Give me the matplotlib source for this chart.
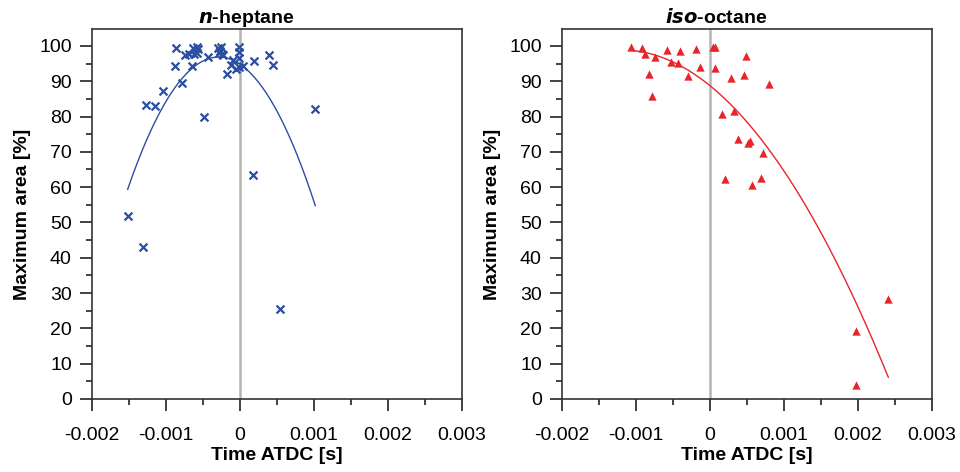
import matplotlib.pyplot as plt
from matplotlib.ticker import MultipleLocator
import numpy as np

plt.rcParams['font.family'] = ['Liberation Sans', 'DejaVu Sans']

# n-heptane: time ATDC [s], maximum area [%]
hep_t = [-0.000865, -0.000874, -0.000788, -0.001045, -0.001274, -0.001144, -0.000486,
         -0.000748, -0.000689, -0.000631, -0.000586, -0.000563, -0.000622, -0.000586,
         -0.000644, -0.000428, -0.000302, -0.000257, -0.000288, -0.000248, -0.000225,
         -0.000270, -0.000018, -0.000014, -0.000018, -0.000099, -0.000126, -0.000058,
         -0.000171, 0.000041, -0.000010, 0.000185, 0.000387, 0.000450, 0.001018,
         -0.001518, -0.001311, 0.000180, 0.000545]
hep_a = [99.3, 94.4, 89.5, 87.1, 83.3, 83.0, 80.0,
         97.5, 97.6, 99.3, 99.6, 99.2, 97.7, 98.1,
         94.3, 97.0, 99.3, 99.6, 98.1, 97.7, 97.3,
         98.7, 99.8, 98.4, 96.5, 96.0, 94.6, 93.4,
         92.0, 94.4, 94.1, 95.8, 97.5, 94.6, 82.2,
         51.7, 43.0, 63.5, 25.4]

# iso-octane
iso_t = [-0.001063, -0.000923, -0.000874, -0.000743, -0.000820, -0.000788, -0.000577,
         -0.000405, -0.000523, -0.000432, -0.000297, -0.000189, -0.000135, 0.000041,
         0.000072, 0.000068, 0.000490, 0.000460, 0.000280, 0.000793, 0.000166,
         0.000329, 0.000383, 0.000510, 0.000540, 0.000720, 0.000207, 0.000572,
         0.000689, 0.001977, 0.001977, 0.002410]
iso_a = [99.6, 99.5, 97.6, 97.0, 92.0, 85.8, 98.8,
         98.5, 95.4, 95.2, 91.5, 99.0, 93.9, 99.8,
         99.6, 93.8, 97.2, 91.8, 90.8, 89.1, 80.7,
         81.6, 73.7, 72.4, 73.1, 69.6, 62.4, 60.5,
         62.5, 19.2, 3.9, 28.2]

fig = plt.figure(figsize=(9.6, 4.72), dpi=100)
ax1 = fig.add_axes([0.0958, 0.1547, 0.3854, 0.7839])
ax2 = fig.add_axes([0.5854, 0.1547, 0.3854, 0.7839])

panels = [
    (ax1, hep_t, hep_a, 'x', '#2b4ea2', r'$\bfit{n}$-heptane'),
    (ax2, iso_t, iso_a, '^', '#e8252b', r'$\bfit{iso}$-octane'),
]

for ax, t, a, m, c, title in panels:
    ax.axvline(0, color='#b4b4b4', lw=1.8, zorder=1)
    ax.scatter(t, a, marker=m, color=c, s=32 if m == 'x' else 36,
               linewidths=1.6 if m == 'x' else 0, zorder=3)
    # 2nd order polynomial trendline
    coef = np.polyfit(t, a, 2)
    tt = np.linspace(min(t), max(t), 200)
    ax.plot(tt, np.polyval(coef, tt), color=c, lw=1.0, zorder=2)

    ax.set_xlim(-0.002, 0.003)
    ax.set_ylim(0, 104.8)
    ax.xaxis.set_major_locator(MultipleLocator(0.001))
    ax.xaxis.set_minor_locator(MultipleLocator(0.0005))
    ax.yaxis.set_major_locator(MultipleLocator(10))
    ax.yaxis.set_minor_locator(MultipleLocator(5))
    ax.set_xticks([-0.002, -0.001, 0, 0.001, 0.002, 0.003])
    ax.set_xticklabels(['-0.002', '-0.001', '0', '0.001', '0.002', '0.003'])
    ax.tick_params(which='major', direction='out', length=8.5, width=1.2,
                   labelsize=14, color='#222222')
    ax.tick_params(which='minor', direction='out', length=4, width=1.2, color='#222222')
    ax.tick_params(axis='x', pad=12)
    ax.tick_params(axis='y', pad=6)
    ax.tick_params(top=False, right=False)
    for sp in ax.spines.values():
        sp.set_linewidth(1.2)
        sp.set_color('#333333')
    ax.set_xlabel('Time ATDC [s]', fontsize=14, fontweight='bold', labelpad=2)
    ax.set_ylabel('Maximum area [%]', fontsize=14, fontweight='bold', labelpad=6)
    ax.set_title(title, fontsize=14, fontweight='bold', pad=4, x=0.418)

fig.savefig('out.png', dpi=100)
